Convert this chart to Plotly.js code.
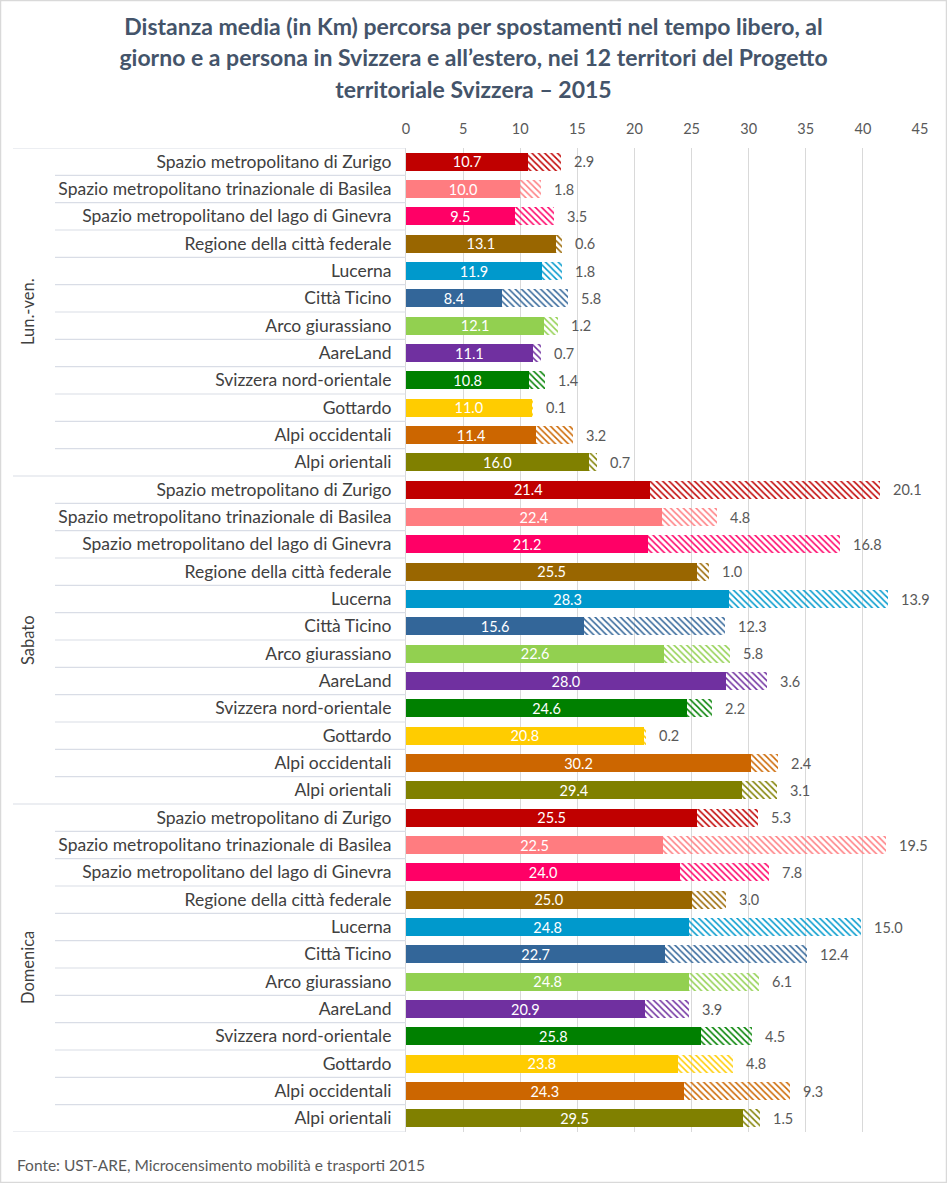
<!DOCTYPE html>
<html>
<head>
<meta charset="utf-8">
<script src="https://cdn.plot.ly/plotly-3.0.1.min.js"></script>
<style>
html,body{margin:0;padding:0;background:#fff;}
#chart{width:947px;height:1183px;}
</style>
</head>
<body>
<div id="chart"></div>
<script>
// ---- data ----
const groups = ["Lun.-ven.", "Sabato", "Domenica"];
const territories = [
  "Spazio metropolitano di Zurigo",
  "Spazio metropolitano trinazionale di Basilea",
  "Spazio metropolitano del lago di Ginevra",
  "Regione della città federale",
  "Lucerna",
  "Città Ticino",
  "Arco giurassiano",
  "AareLand",
  "Svizzera nord-orientale",
  "Gottardo",
  "Alpi occidentali",
  "Alpi orientali"
];
const territoryColors = [
  "#c00000", "#ff7c80", "#ff0066", "#996600", "#0099cc", "#336699",
  "#92d050", "#7030a0", "#008000", "#ffcc00", "#cc6600", "#808000"
];
// distance in Switzerland (solid bars)
const switzerlandLunVen  = [10.7, 10.0, 9.5, 13.1, 11.9, 8.4, 12.1, 11.1, 10.8, 11.0, 11.4, 16.0];
const switzerlandSabato  = [21.4, 22.4, 21.2, 25.5, 28.3, 15.6, 22.6, 28.0, 24.6, 20.8, 30.2, 29.4];
const switzerlandDomenica= [25.5, 22.5, 24.0, 25.0, 24.8, 22.7, 24.8, 20.9, 25.8, 23.8, 24.3, 29.5];
// distance abroad (hatched bars)
const abroadLunVen   = [2.9, 1.8, 3.5, 0.6, 1.8, 5.8, 1.2, 0.7, 1.4, 0.1, 3.2, 0.7];
const abroadSabato   = [20.1, 4.8, 16.8, 1.0, 13.9, 12.3, 5.8, 3.6, 2.2, 0.2, 2.4, 3.1];
const abroadDomenica = [5.3, 19.5, 7.8, 3.0, 15.0, 12.4, 6.1, 3.9, 4.5, 4.8, 9.3, 1.5];
const xTicks = [0, 5, 10, 15, 20, 25, 30, 35, 40, 45];

const titleLines = [
  "Distanza media (in Km) percorsa per spostamenti nel tempo libero, al",
  "giorno e a persona in Svizzera e all\u2019estero, nei 12 territori del Progetto",
  "territoriale Svizzera \u2013 2015"
];
const sourceText = "Fonte: UST-ARE, Microcensimento mobilità e trasporti 2015";

// ---- build ----
const swiss = switzerlandLunVen.concat(switzerlandSabato, switzerlandDomenica);
const abroad = abroadLunVen.concat(abroadSabato, abroadDomenica);
const names = [], cols = [], pos = [];
groups.forEach((g, gi) => {
  territories.forEach((t, ti) => {
    names.push(t); cols.push(territoryColors[ti]); pos.push(gi * territories.length + ti);
  });
});
const totals = swiss.map((v, i) => v + abroad[i]);

const FONT = "Lato, 'Open Sans', sans-serif";
const W = 947, H = 1183;
const M = {l: 406, r: 27, t: 148, b: 51};
const pw = W - M.l - M.r, ph = H - M.t - M.b;
const px = (p) => (p - M.l) / pw;          // pixel -> paper x
const py = (p) => (H - M.b - p) / ph;      // pixel -> paper y

const traceSwiss = {
  type: "bar", orientation: "h",
  x: swiss, y: pos,
  marker: {color: cols, line: {width: 0}},
  texttemplate: "%{x:.1f}", textposition: "inside", insidetextanchor: "middle",
  constraintext: "none",
  insidetextfont: {color: "#ffffff", size: 14.5, family: FONT},
  hoverinfo: "x", showlegend: false
};
const traceAbroad = {
  type: "bar", orientation: "h",
  x: abroad, y: pos,
  marker: {color: cols, line: {width: 0},
    pattern: {shape: "\\", fillmode: "replace", size: 4.5, solidity: 0.33, fgcolor: cols}},
  textposition: "none",
  hoverinfo: "x", showlegend: false
};

const shapes = [];
const nT = territories.length;
for (let k = 0; k <= pos.length; k++) {
  const isGroup = (k % nT === 0);
  shapes.push({type: "line", xref: "paper", yref: "y",
    x0: isGroup ? px(13) : px(55), x1: 0, y0: k - 0.5, y1: k - 0.5,
    line: {color: "#d9dde6", width: 1.2}});
}
// outer chart border
shapes.push({type: "rect", xref: "paper", yref: "paper",
  x0: px(0.5), x1: px(W - 0.5), y0: py(H - 0.5), y1: py(0.5),
  line: {color: "#d9d9d9", width: 1.5}, fillcolor: "rgba(0,0,0,0)", layer: "below"});

const annotations = [];
// values abroad, right of each stacked bar
totals.forEach((tot, i) => {
  annotations.push({x: tot, y: pos[i], xref: "x", yref: "y",
    text: abroad[i].toFixed(1), showarrow: false, xanchor: "left", xshift: 11,
    font: {family: FONT, size: 14.5, color: "#595959"}});
});
// group labels
groups.forEach((g, gi) => {
  annotations.push({x: px(28), y: gi * nT + (nT - 1) / 2, xref: "paper", yref: "y",
    text: g, textangle: -90, showarrow: false, xanchor: "center", yanchor: "middle",
    font: {family: FONT, size: 16.5, color: "#404040"}});
});
// source
annotations.push({x: px(15), y: py(1165), xref: "paper", yref: "paper",
  text: sourceText, showarrow: false, xanchor: "left", yanchor: "middle",
  font: {family: FONT, size: 15.5, color: "#595959"}});

const layout = {
  width: W, height: H,
  margin: M,
  paper_bgcolor: "#ffffff", plot_bgcolor: "#ffffff",
  barmode: "stack", bargap: 0.34,
  title: {
    text: titleLines.map(s => '<span style="font-size:23px">' + s + '</span>').join("<br>"),
    font: {family: FONT, size: 24.2, color: "#44546a", weight: "bold"},
    x: 0.5, xref: "container", xanchor: "center",
    y: 1 - 35 / H, yref: "container", yanchor: "top"
  },
  xaxis: {
    side: "top", range: [0, 45], tickvals: xTicks, ticktext: xTicks.map(String),
    showgrid: true, gridcolor: "#d9d9d9", gridwidth: 1, zeroline: false, showline: false,
    ticks: "", tickfont: {family: FONT, size: 14.5, color: "#595959"}, ticklabelstandoff: 10,
    fixedrange: true
  },
  yaxis: {
    range: [pos.length - 0.5, -0.5], tickvals: pos, ticktext: names,
    showgrid: false, zeroline: false, showline: true, linecolor: "#d9d9d9", linewidth: 1,
    ticks: "", tickfont: {family: FONT, size: 17.5, color: "#404040"}, ticklabelstandoff: 10,
    fixedrange: true
  },
  shapes: shapes,
  annotations: annotations,
  font: {family: FONT}
};

Plotly.newPlot("chart", [traceSwiss, traceAbroad], layout, {displayModeBar: false, staticPlot: true});
</script>
</body>
</html>
